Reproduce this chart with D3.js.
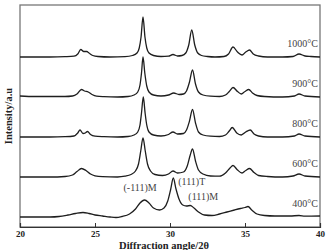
<!DOCTYPE html>
<html>
<head>
<meta charset="utf-8">
<script src="https://cdn.jsdelivr.net/npm/d3@7"></script>
<style>
  body { margin: 0; background: #fff; }
  svg { display: block; }
</style>
</head>
<body>
<div id="vis"></div>
<script>
// xrd patterns, [2theta, intensity above own baseline]
var xrd400 = [[20,0],[21,0],[22,0],[22.6,0.5],[23.2,2],[23.7,3.5],[24.2,4.5],[24.6,3.5],[25,2],[25.5,1],[26,0],[26.4,-0.5],[26.8,0.5],[27.3,3],[27.7,8],[28,14],[28.3,17],[28.6,14],[28.9,9],[29.3,7],[29.6,9],[29.85,16],[30.05,28],[30.22,39],[30.4,28],[30.6,18],[30.85,12],[31.1,11],[31.35,11.5],[31.6,9],[31.9,5],[32.3,2],[32.8,1.5],[33.3,3],[33.8,5],[34.3,7],[34.7,8.5],[35,9.5],[35.2,10.5],[35.45,7],[35.8,3],[36.3,1.5],[37,1],[38,1],[38.6,1.5],[39,0.8],[40,1]];
var xrd600 = [[20,0],[21,0],[22,0],[23,0.5],[23.5,2],[23.8,5.5],[24.1,8.5],[24.4,6.5],[24.7,3],[25,1.2],[25.5,0.3],[26.5,0],[27,0.8],[27.4,2.5],[27.7,6],[27.9,13],[28.05,26],[28.2,39],[28.35,26],[28.5,13],[28.7,6],[29,2.5],[29.5,1.5],[29.9,3],[30.2,6],[30.5,4],[30.9,5],[31.15,11],[31.35,22],[31.5,28],[31.7,16],[31.9,7],[32.2,3],[32.7,1],[33.3,0.8],[33.7,4],[34,9],[34.2,11.5],[34.5,7],[34.8,4],[35.05,6.5],[35.3,8.5],[35.6,4.5],[35.9,1.5],[36.5,0.5],[37.5,0],[38.2,1],[38.6,3],[39,1],[40,0]];
var xrd800 = [[20,0],[21,0],[22,0],[23,0.3],[23.6,1],[23.85,4],[24,7],[24.2,3.5],[24.35,4],[24.5,5.5],[24.7,2.5],[25,0.8],[25.6,0.3],[26.5,0],[27.2,0.5],[27.6,2],[27.85,5],[28,12],[28.1,24],[28.22,40],[28.34,24],[28.45,12],[28.6,5],[28.9,2],[29.4,1],[29.9,2.5],[30.2,5],[30.5,3],[30.9,3.5],[31.1,7],[31.3,16],[31.5,27.5],[31.7,14],[31.9,5],[32.2,2],[32.7,0.8],[33.3,0.5],[33.7,2],[33.95,6],[34.15,9.5],[34.45,4],[34.75,2],[35.05,5],[35.35,7],[35.6,3],[35.9,1],[36.5,0],[37.5,0],[38.3,1],[38.6,3],[39,1],[40,0]];
var xrd900 = [[20,1],[21,0.5],[22,0.5],[23,0.5],[23.5,1],[23.8,3],[24.1,7.5],[24.3,6],[24.55,5],[24.8,2.5],[25.1,0.8],[25.6,0.3],[26.5,0],[27.2,0.5],[27.6,2],[27.85,5],[28,12],[28.1,24],[28.2,40],[28.32,24],[28.45,11],[28.6,5],[28.9,2],[29.4,1],[29.9,2],[30.25,4],[30.6,2.5],[30.9,3],[31.1,6],[31.3,15],[31.5,27],[31.7,13],[31.9,5],[32.2,2],[32.7,0.8],[33.3,0.5],[33.7,2],[33.95,5.5],[34.2,9.5],[34.5,5.5],[34.75,3],[35,5.5],[35.25,7.5],[35.5,4],[35.8,1.5],[36.3,0.5],[37.5,0],[38.3,1],[38.6,3],[39,1],[40,0]];
var xrd1000 = [[20,0],[21,0],[22,0],[23,0.3],[23.6,0.8],[23.85,3],[24.05,7.5],[24.25,5.5],[24.45,5.5],[24.6,4],[24.85,1.5],[25.2,0.5],[26,0],[27,0.3],[27.5,1.5],[27.8,4],[27.95,9],[28.07,20],[28.2,40],[28.33,20],[28.45,9],[28.6,4],[28.9,1.5],[29.4,0.5],[29.9,0.8],[30.2,2.5],[30.5,1],[30.8,1.5],[31.05,4],[31.25,12],[31.45,27],[31.65,12],[31.85,4],[32.1,1.5],[32.5,0.5],[33,0],[33.6,0.5],[33.9,3],[34.2,10],[34.5,5],[34.8,2],[35.05,5],[35.3,7],[35.55,3],[35.9,1],[36.5,0],[37.5,0],[38.2,0.5],[38.6,3],[39,1],[39.4,0.5],[40,0]];

var series = [xrd400, xrd600, xrd800, xrd900, xrd1000];
var tempLabels = ["400°C", "600°C", "800°C", "900°C", "1000°C"];
var offsets = [0, 40, 80, 120, 160];

var xTicks = [20, 25, 30, 35, 40];

// phase labels on the 400 pattern
var peakLabels = ["(-111)M", "(111)T", "(111)M"];
var peakLabelAngles = [26.9, 30.55, 31.22];
var peakLabelLevels = [26, 32, 17];

var width = 327;
var height = 250;

var margin = { top: 5, left: 20, right: 7, bottom: 23 };

var svg = d3.select("#vis")
    .append("svg")
    .attr("width", width)
    .attr("height", height);

var xscale = d3.scaleLinear()
    .domain([20, 40])
    .range([margin.left, width - margin.right]);

var yscale = d3.scaleLinear()
    .domain([-10, 212])
    .range([height - margin.bottom, margin.top]);

var serif = '"Liberation Serif", "Times New Roman", serif';

// frame
svg.append("rect")
    .attr("x", xscale(20))
    .attr("y", margin.top)
    .attr("width", xscale(40) - xscale(20))
    .attr("height", yscale(-10) - margin.top)
    .attr("fill", "none")
    .attr("stroke", "#777")
    .attr("stroke-width", 1.3);

// x axis, ticks pointing inward
var xaxis = d3.axisBottom(xscale)
    .tickValues(xTicks)
    .tickSize(-4)
    .tickPadding(4)
    .tickFormat(d3.format("d"));

var gx = svg.append("g")
    .attr("transform", "translate(0," + yscale(-10) + ")")
    .call(xaxis);

gx.select(".domain")
    .attr("stroke", "#333")
    .attr("stroke-width", 1.2);
gx.selectAll(".tick line")
    .attr("stroke", "#333")
    .attr("stroke-width", 1);
gx.selectAll(".tick text")
    .attr("fill", "#222")
    .style("font-family", serif)
    .style("font-weight", "bold")
    .style("font-size", "9px");

// curves
var line = d3.line()
    .x(function(d) { return xscale(d[0]); })
    .y(function(d) { return d.y; })
    .curve(d3.curveMonotoneX);

series.forEach(function(s, i) {
    var pts = s.map(function(d) {
        var p = [d[0], d[1]];
        p.y = yscale(d[1] + offsets[i]);
        return p;
    });
    svg.append("path")
        .attr("d", line(pts))
        .attr("fill", "none")
        .attr("stroke", "#1e1e1e")
        .attr("stroke-width", 1.3)
        .attr("stroke-linejoin", "round");

    svg.append("text")
        .attr("x", xscale(40) - 2)
        .attr("y", yscale(offsets[i] + 10))
        .attr("text-anchor", "end")
        .attr("fill", "#444")
        .style("font-family", serif)
        .style("font-size", "10px")
        .text(tempLabels[i]);
});

// peak annotations
peakLabels.forEach(function(t, i) {
    svg.append("text")
        .attr("x", xscale(peakLabelAngles[i]))
        .attr("y", yscale(peakLabelLevels[i]))
        .attr("fill", "#444")
        .style("font-family", serif)
        .style("font-size", "10px")
        .text(t);
});

// axis titles
svg.append("text")
    .attr("transform", "translate(12," + ((margin.top + yscale(-10)) / 2) + ") rotate(-90)")
    .attr("text-anchor", "middle")
    .attr("fill", "#222")
    .style("font-family", serif)
    .style("font-weight", "bold")
    .style("font-size", "10.5px")
    .text("Intensity/a.u");

svg.append("text")
    .attr("x", 164)
    .attr("y", 249)
    .attr("text-anchor", "middle")
    .attr("fill", "#222")
    .style("font-family", serif)
    .style("font-weight", "bold")
    .style("font-size", "10.5px")
    .text("Diffraction angle/2θ");
</script>
</body>
</html>
